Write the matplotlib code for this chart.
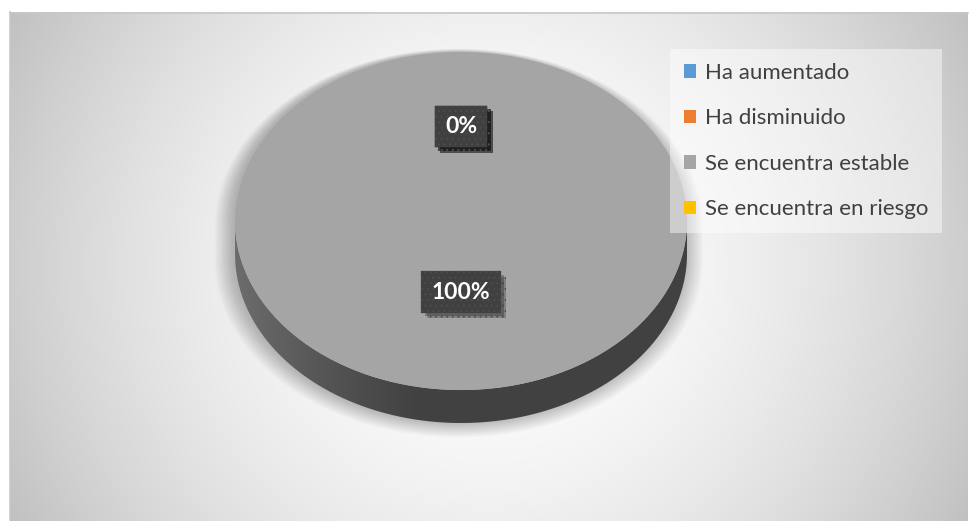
import numpy as np
import matplotlib
matplotlib.use("Agg")
import matplotlib.pyplot as plt
from matplotlib.patches import Patch, Polygon
import matplotlib.patheffects as pe

# data
categories = ['Ha aumentado', 'Ha disminuido', 'Se encuentra estable', 'Se encuentra en riesgo']
values = [0, 0, 100, 0]
colors = ['#5b9bd5', '#ed7d31', '#a5a5a5', '#ffc000']

plt.rcParams['font.family'] = ['Lato', 'DejaVu Sans']
plt.rcParams['hatch.linewidth'] = 0.6

W, H = 970, 521
fig = plt.figure(figsize=(W / 100, H / 100), dpi=100)
fig.patch.set_facecolor('white')

# background with radial gradient
bg = fig.add_axes([0, 0, 1, 1])
bg.set_xlim(0, W)
bg.set_ylim(H, 0)
bg.axis('off')
x0, x1, y0, y1 = 10, 968, 12, 521
xx, yy = np.meshgrid(np.arange(x0, x1), np.arange(y0, y1))
d = np.hypot(xx - 489, yy - 266) / 540
v = (255 - 62 * d ** 1.8) / 255
bg.imshow(np.dstack([v, v, v]), extent=(x0, x1, y1, y0), aspect='auto', zorder=0)
bg.plot([x0, x1], [y0 + 0.5, y0 + 0.5], color='#c8c8c8', lw=1.2, zorder=1)
bg.plot([x0 + 0.5, x0 + 0.5], [y0, y1], color='#c8c8c8', lw=1.2, zorder=1)

# pie axes, squashed to an ellipse
depth = 0.195
cx0, cx1, cy_top, cy_bot = 235, 687, 52, 423
ax = fig.add_axes([cx0 / W, (H - cy_bot) / H, (cx1 - cx0) / W, (cy_bot - cy_top) / H])
ax.patch.set_alpha(0)

# soft shadow behind the pie (grows mostly sideways and downwards)
t = np.linspace(0, 2 * np.pi, 200)
sil_x = np.cos(t)
sil_y = np.where(np.sin(t) < 0, np.sin(t) - depth, np.sin(t))
for k in np.linspace(0.0, 0.08, 16):
    ax.add_patch(Polygon(np.column_stack([sil_x * (1 + k) - 0.01,
                                          (sil_y - 0.6) * (1 + k * 0.6) + 0.6]),
                         closed=True, facecolor='black', alpha=0.016, lw=0, zorder=0,
                         clip_on=False))

wedges, _ = ax.pie(values, colors=colors, startangle=90, counterclock=False,
                   radius=1, wedgeprops=dict(linewidth=0))
for w in wedges:
    w.set_zorder(3)


def front_range(a1, a2):
    # part of the wedge [a1, a2] (degrees) that faces the viewer (180..360)
    if a2 - a1 >= 360:
        return 180, 360
    for k in (-720, -360, 0, 360):
        lo, hi = max(a1 + k, 180), min(a2 + k, 360)
        if hi > lo:
            return lo, hi
    return None


# side walls (front half of each wedge)
grad = np.linspace(0, 1, 300)
shade = 0.255 + 0.17 * np.clip(1 - grad / 0.42, 0, 1) ** 1.2
side_img = np.dstack([shade, shade, shade]).repeat(2, axis=0)
for w, c in zip(wedges, colors):
    a1, a2 = sorted([w.theta1, w.theta2])
    rng = front_range(a1, a2)
    if rng is None:
        continue
    ang = np.radians(np.linspace(rng[0], rng[1], 120))
    px = np.concatenate([np.cos(ang), np.cos(ang[::-1])])
    py = np.concatenate([np.sin(ang), np.sin(ang[::-1]) - depth])
    poly = Polygon(np.column_stack([px, py]), closed=True, facecolor='none', lw=0)
    ax.add_patch(poly)
    im = ax.imshow(side_img, extent=(-1, 1, -1 - depth, 0), aspect='auto', zorder=2)
    im.set_clip_path(poly)

ax.set_aspect('auto')
ax.set_xlim(-1, 1)
ax.set_ylim(-1 - depth, 1)
ax.axis('off')

# data labels
for w, val in zip(wedges, values):
    mid = np.radians((w.theta1 + w.theta2) / 2)
    txt = ax.text(0.49 * np.cos(mid), 0.49 * np.sin(mid) + 0.07, f'{val:.0f}%',
                  ha='center', va='center', color='white', fontsize=16.5, fontweight='bold', zorder=6,
                  bbox=dict(boxstyle='square,pad=0.45', facecolor='#404040', edgecolor='#4e4e4e',
                            lw=0.2, hatch='...'))
    txt.get_bbox_patch().set_path_effects([
        pe.SimplePatchShadow(offset=(4, -4), shadow_rgbFace='black', alpha=0.22),
        pe.SimplePatchShadow(offset=(2.5, -2.5), shadow_rgbFace='black', alpha=0.25),
        pe.Normal()])

# legend
handles = [Patch(facecolor=c, edgecolor='none') for c in colors]
leg = fig.legend(handles, categories, loc='upper left', bbox_to_anchor=(670 / W, 1 - 49 / H),
                 fontsize=16, frameon=True, fancybox=False, handlelength=0.55, handleheight=0.55,
                 handletextpad=0.4, labelspacing=1.15, borderpad=0.62, borderaxespad=0)
leg.get_frame().set_facecolor('white')
leg.get_frame().set_alpha(0.45)
leg.get_frame().set_linewidth(0)
for t_ in leg.get_texts():
    t_.set_color('#404040')

fig.savefig('out.png', dpi=100)
